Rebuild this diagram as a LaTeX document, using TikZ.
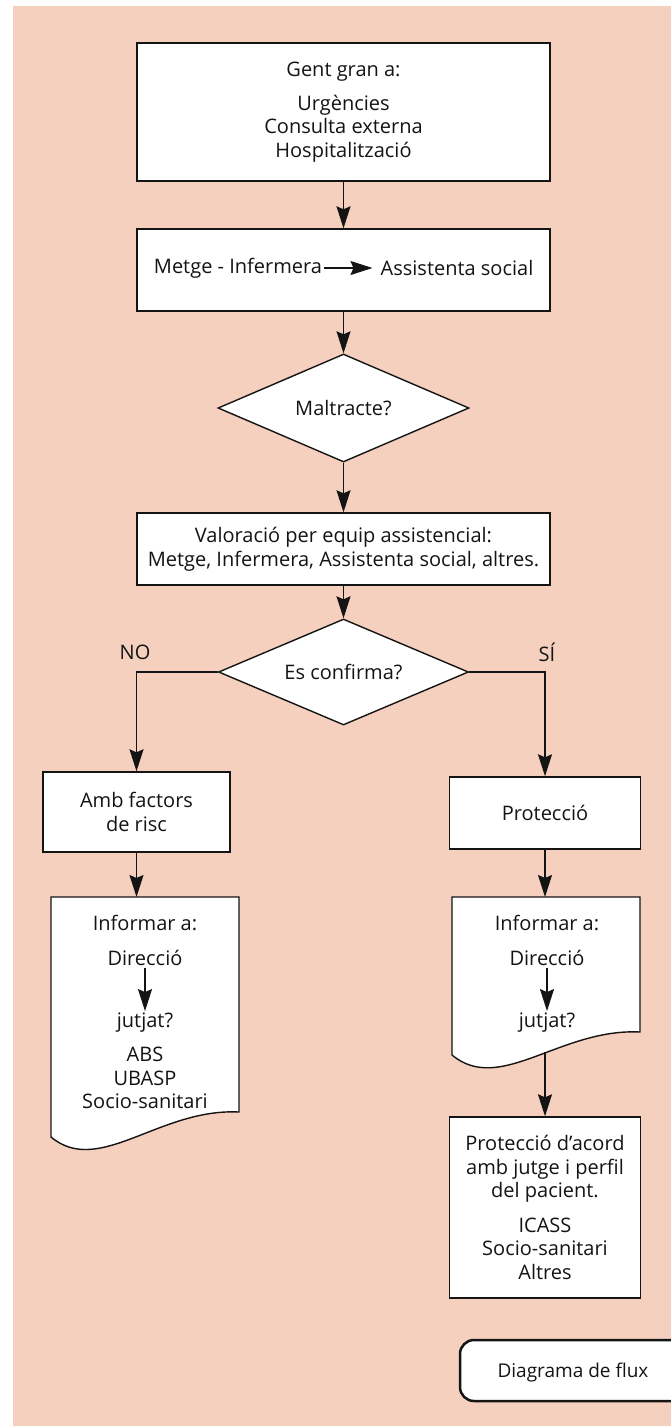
\documentclass[tikz,border=0pt]{standalone}
\usepackage{fontspec}
\setmainfont{Open Sans}
\usetikzlibrary{shapes.geometric,arrows.meta,positioning}
\definecolor{salmon}{RGB}{245,208,190}
\definecolor{ink}{RGB}{20,20,20}

\tikzset{
  outline/.style={draw=ink, line width=1.4pt, fill=white},
  box/.style={outline, align=center, inner sep=0pt, text=ink},
  decision/.style={diamond, outline, inner sep=0pt, aspect=2.3, text=ink},
  lbl/.style={align=center, inner sep=2pt, text=ink},
  flow/.style={draw=ink, line width=1.4pt, -{Stealth[length=22pt,width=14pt,inset=3pt]}},
}

\begin{document}
\begin{tikzpicture}[x=1pt,y=-1pt,font=\fontsize{20}{23.5}\selectfont]
		%page and background
		\useasboundingbox (0,0) rectangle (671,1426);
		\clip (0,0) rectangle (671,1426);
		\fill[salmon] (13,6) rectangle (671,1426);
		
		%main column
		\node[box, minimum width=413, minimum height=138] (gent) at (343.5,112) {Gent gran a:\\[10pt]Urgències\\Consulta externa\\Hospitalització};
		\node[box, minimum width=413, minimum height=82] (metge) at (343.5,270) {};
		\node[lbl] (metinf) at (238,268) {Metge - Infermera};
		\node[lbl] (asssoc) at (457,268) {Assistenta social};
		\node[decision, minimum width=251, minimum height=108] (maltr) at (343.5,408) {Maltracte?};
		\node[box, minimum width=413, minimum height=72] (valor) at (343.5,549) {Valoració per equip assistencial:\\Metge, Infermera, Assistenta social, altres.};
		\node[decision, minimum width=250, minimum height=106] (confirm) at (343.5,672) {Es confirma?};
		\node[lbl] (no) at (135,652) {NO};
		\node[lbl] (si) at (547,652) {SÍ};
		
		%branches
		\node[box, minimum width=187, minimum height=80] (factors) at (136.5,812) {Amb factors\\de risc};
		\node[box, minimum width=191, minimum height=72] (prot) at (545,813) {Protecció};
		
		%documents
		\draw[outline] (51,897) -- (239,897) -- (239,1112) .. controls (159,1108) and (99,1177) .. (51,1137) -- cycle;
		\draw[outline] (452,897) -- (640,897) -- (640,1032) .. controls (560,1028) and (500,1095) .. (452,1055) -- cycle;
		\coordinate (docL) at (136.5,897);
		\coordinate (docR) at (545,897);
		\coordinate (docRend) at (545,1052);
		
		\node[lbl] (infL) at (145,940.5) {Informar a:\\[11pt]Direcció};
		\node[lbl] (jutL) at (145,1023) {jutjat?};
		\node[lbl] (absL) at (145,1078) {ABS\\UBASP\\Socio-sanitari};
		\node[lbl] (infR) at (547,940.5) {Informar a:\\[11pt]Direcció};
		\node[lbl] (jutR) at (547,1023) {jutjat?};
		
		\node[box, minimum width=191, minimum height=181] (protj) at (545,1207.5) {Protecció d’acord\\amb jutge i perfil\\del pacient.\\[11pt]ICASS\\Socio-sanitari\\Altres};
		
		%arrows
		\draw[flow] (gent) -- (metge);
		\draw[flow, shorten >=6pt] (metinf) -- (asssoc);
		\draw[flow] (metge) -- (maltr);
		\draw[flow] (maltr) -- (valor);
		\draw[flow] (valor) -- (confirm);
		\draw[flow] (confirm.west) -| (factors);
		\draw[flow] (confirm.east) -| (prot);
		\draw[flow] (factors) -- (docL);
		\draw[flow] (prot) -- (docR);
		\draw[flow] (infL) -- (jutL);
		\draw[flow] (infR) -- (jutR);
		\draw[flow] (docRend) -- (protj);
		
		%legend tab
		\draw[outline, line width=2.5pt, rounded corners=14pt] (700,1340) -- (460,1340) -- (460,1401) -- (700,1401);
		\node[lbl, font=\fontsize{19}{23}\selectfont] (flux) at (573,1372) {Diagrama de flux};
\end{tikzpicture}
\end{document}
